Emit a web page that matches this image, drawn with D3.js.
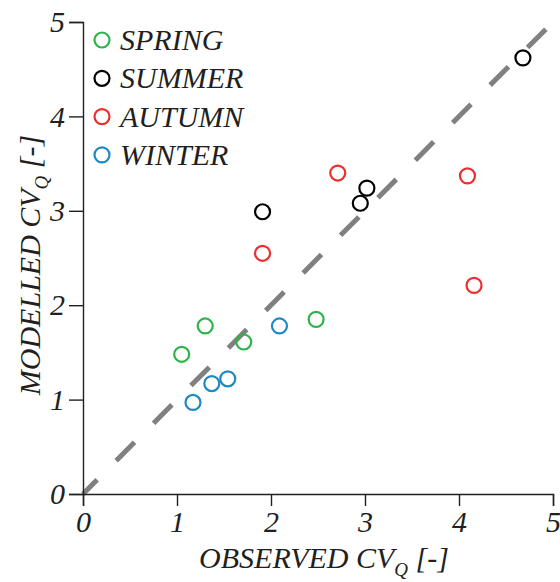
<!DOCTYPE html>
<html>
<head>
<meta charset="utf-8">
<script src="https://cdn.jsdelivr.net/npm/d3@7"></script>
<style>
  body { margin: 0; background: #fff; }
  text { font-family: "Liberation Serif", "Times New Roman", serif; font-style: italic; fill: #231f20; }
</style>
</head>
<body>
<div id="chart"></div>
<script>
// seasons and their colours
const seasons = ['SPRING', 'SUMMER', 'AUTUMN', 'WINTER'];
const seasonColors = ['#2db34a', '#000000', '#ee2d2d', '#1f8ac0'];

// observed / modelled CV_Q per season
const springObs = [1.05, 1.30, 1.71, 2.48];
const springMod = [1.48, 1.78, 1.61, 1.85];
const summerObs = [4.68, 1.91, 2.95, 3.02];
const summerMod = [4.62, 2.99, 3.08, 3.24];
const autumnObs = [2.71, 1.91, 4.09, 4.16];
const autumnMod = [3.40, 2.55, 3.37, 2.21];
const winterObs = [2.09, 1.37, 1.54, 1.17];
const winterMod = [1.78, 1.17, 1.22, 0.97];

const tickValues = [0, 1, 2, 3, 4, 5];

const width = 560, height = 582;
const margin = { left: 83, right: 7, top: 22, bottom: 88 };

const svg = d3.select('#chart').append('svg')
  .attr('width', width)
  .attr('height', height);

const x = d3.scaleLinear().domain([0, 5]).range([margin.left, width - margin.right]);
const y = d3.scaleLinear().domain([0, 5]).range([height - margin.bottom, margin.top]);

// build points
const obsList = [springObs, summerObs, autumnObs, winterObs];
const modList = [springMod, summerMod, autumnMod, winterMod];
const points = [];
seasons.forEach(function (s, i) {
  obsList[i].forEach(function (v, j) {
    points.push({ season: i, obs: v, mod: modList[i][j] });
  });
});

// 1:1 line
svg.append('line')
  .attr('x1', x(0)).attr('y1', y(0))
  .attr('x2', x(5)).attr('y2', y(5))
  .attr('stroke', '#808080')
  .attr('stroke-width', 5)
  .attr('stroke-dasharray', '26,27')
  .attr('stroke-dashoffset', 6);

// axes
const xAxis = svg.append('g')
  .attr('transform', 'translate(0,' + y(0) + ')')
  .call(d3.axisBottom(x).tickValues(tickValues).tickSize(12).tickPadding(5).tickFormat(d3.format('d')));
const yAxis = svg.append('g')
  .attr('transform', 'translate(' + x(0) + ',0)')
  .call(d3.axisLeft(y).tickValues(tickValues).tickSize(14).tickPadding(4).tickFormat(d3.format('d')));

[xAxis, yAxis].forEach(function (a) {
  a.select('.domain').attr('stroke', '#231f20').attr('stroke-width', 1.4);
  a.selectAll('.tick line').attr('stroke', '#231f20').attr('stroke-width', 1.4);
  a.selectAll('.tick text').style('font-size', '30px').attr('fill', '#231f20');
});

// points
svg.append('g').selectAll('circle')
  .data(points)
  .join('circle')
  .attr('cx', d => x(d.obs))
  .attr('cy', d => y(d.mod))
  .attr('r', 7.5)
  .attr('fill', 'none')
  .attr('stroke', d => seasonColors[d.season])
  .attr('stroke-width', 2.2);

// legend
const legend = svg.append('g');
seasons.forEach(function (s, i) {
  const ly = 40 + i * 38.3;
  legend.append('circle')
    .attr('cx', 102).attr('cy', ly).attr('r', 7.5)
    .attr('fill', 'none')
    .attr('stroke', seasonColors[i])
    .attr('stroke-width', 2.2);
  legend.append('text')
    .attr('x', 120).attr('y', ly + 10)
    .style('font-size', '30px')
    .text(s);
});

// axis titles
const xt = svg.append('text')
  .attr('x', (x(0) + x(5)) / 2 + 6)
  .attr('y', 568)
  .attr('text-anchor', 'middle')
  .style('font-size', '30px');
xt.append('tspan').text('OBSERVED CV');
xt.append('tspan').attr('dy', 8).style('font-size', '19px').text('Q');
xt.append('tspan').attr('dy', -8).text(' [-]');

const yt = svg.append('text')
  .attr('transform', 'translate(40,' + ((y(0) + y(5)) / 2 + 7) + ') rotate(-90)')
  .attr('text-anchor', 'middle')
  .style('font-size', '30px');
yt.append('tspan').text('MODELLED CV');
yt.append('tspan').attr('dy', 8).style('font-size', '19px').text('Q');
yt.append('tspan').attr('dy', -8).text(' [-]');
</script>
</body>
</html>
